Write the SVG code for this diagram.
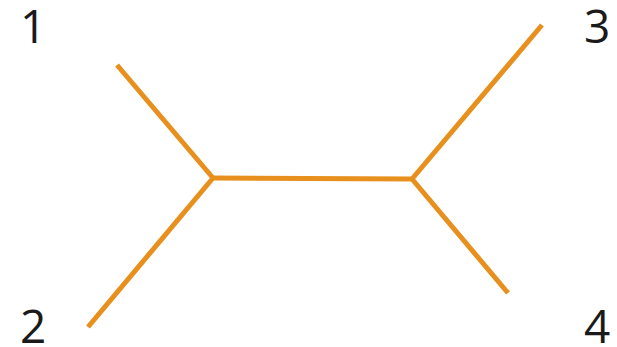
<svg xmlns="http://www.w3.org/2000/svg" width="617" height="347" viewBox="0 0 617 347">
<style>
.e{stroke:#E8901E;stroke-width:5;fill:none;stroke-linecap:butt;stroke-linejoin:round}
.t{font-family:"Open Sans","Noto Sans",sans-serif;font-size:46px;fill:#1a1a1a}
</style>
<rect width="617" height="347" fill="#fff"/>
<g id="edges">
<polyline class="e" points="117,65 213,178 88,327"/>
<line class="e" x1="213" y1="178" x2="412" y2="179"/>
<polyline class="e" points="542,25 412,179 508,293"/>
</g>
<g id="n1"><text class="t" x="20" y="43">1</text></g>
<g id="n2"><text class="t" x="20" y="343">2</text></g>
<g id="n3"><text class="t" x="584" y="43">3</text></g>
<g id="n4"><text class="t" x="584" y="343">4</text></g>
</svg>
